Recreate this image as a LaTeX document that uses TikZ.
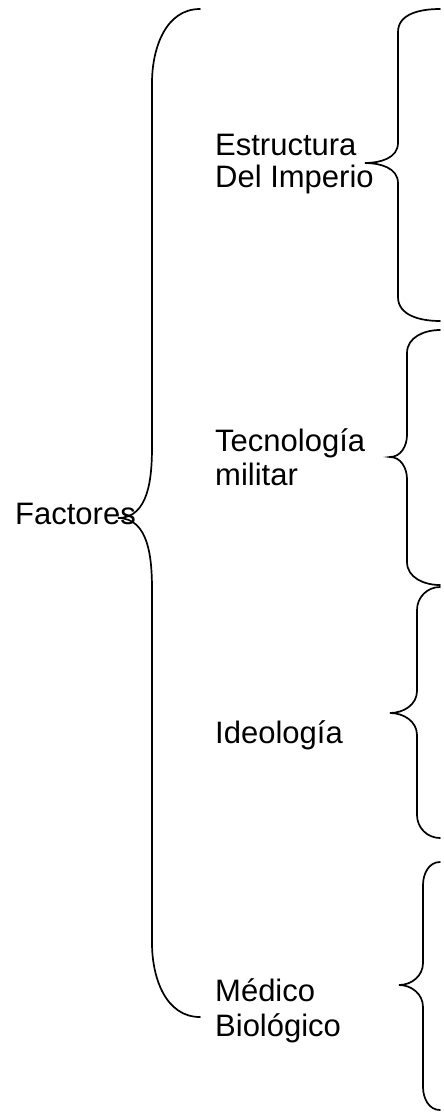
\documentclass[tikz,border=0pt]{standalone}
\usepackage{fontspec}
\setmainfont{Liberation Sans}
\begin{document}
\begin{tikzpicture}[x=1pt,y=-1pt,
  lbl/.style={anchor=base west,inner sep=0pt,font=\fontsize{31}{36}\selectfont},
  br/.style={line width=1.7pt,line cap=round}]
\useasboundingbox (0,0) rectangle (444,1114);
% big brace
\draw[br] (200,9) to[out=180,in=90] (152,83) -- (152,446)
  to[out=-90,in=0] (118,518) to[out=0,in=90] (152,590) -- (152,943)
  to[out=-90,in=180] (200,1017);
% brace 1
\draw[br] (440,9) to[out=180,in=90] (398,32) -- (398,143)
  to[out=-90,in=0] (365,163) to[out=0,in=90] (398,183) -- (398,297)
  to[out=-90,in=180] (440,321);
% brace 2
\draw[br] (440,330) to[out=180,in=90] (407,353) -- (407,435)
  to[out=-90,in=0] (390,457) to[out=0,in=90] (407,479) -- (407,562)
  to[out=-90,in=180] (440,585);
% brace 3
\draw[br] (440,587) to[out=180,in=90] (417,610) -- (417,691)
  to[out=-90,in=0] (390,713) to[out=0,in=90] (417,735) -- (417,815)
  to[out=-90,in=180] (440,838);
% brace 4
\draw[br] (440,862) to[out=180,in=90] (423,885) -- (423,963)
  to[out=-90,in=0] (399,985) to[out=0,in=90] (423,1007) -- (423,1087)
  to[out=-90,in=180] (440,1110);
% labels
\node[lbl] (fac) at (15,524) {Factores};
\node[lbl] (est1) at (215,155) {Estructura};
\node[lbl] (est2) at (215,187) {Del Imperio};
\node[lbl] (tec1) at (215,451) {Tecnología};
\node[lbl] (tec2) at (215,485) {militar};
\node[lbl] (ide) at (215,743) {Ideología};
\node[lbl] (med1) at (215,1001) {Médico};
\node[lbl] (med2) at (215,1036) {Biológico};
\end{tikzpicture}
\end{document}
